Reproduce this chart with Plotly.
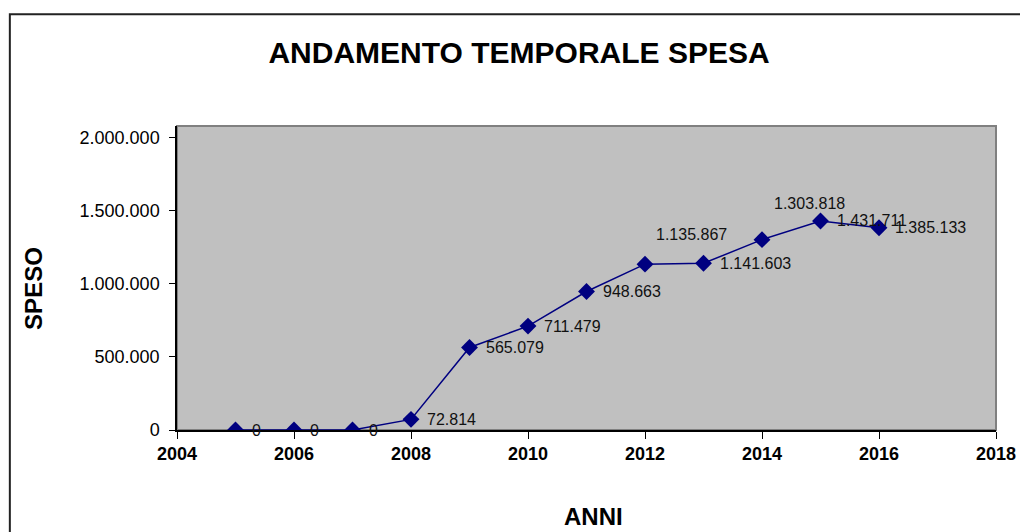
import plotly.graph_objects as go

anni = [2005, 2006, 2007, 2008, 2009, 2010, 2011, 2012, 2013, 2014, 2015, 2016]
speso = [0, 0, 0, 72814, 565079, 711479, 948663, 1135867, 1141603, 1303818, 1431711, 1385133]
y_ticks = [0, 500000, 1000000, 1500000, 2000000]
x_ticks = [2004, 2006, 2008, 2010, 2012, 2014, 2016, 2018]

# label offsets in pixels (default: right of the marker)
label_shift = {2012: (9, 30), 2014: (10, 36)}

FONT = "Liberation Sans, Arial, sans-serif"
NAVY = "#000080"


def fmt(v):
    return f"{v:,}".replace(",", ".")


fig = go.Figure()
fig.add_trace(go.Scatter(
    x=anni, y=speso, mode="lines+markers",
    line=dict(color=NAVY, width=1.5),
    marker=dict(symbol="diamond", size=13, color=NAVY),
    hoverinfo="x+y", showlegend=False,
))

for a, v in zip(anni, speso):
    dx, dy = label_shift.get(a, (14, 0))
    fig.add_annotation(
        x=a, y=v, text=fmt(v), showarrow=False,
        xanchor="left", yanchor="middle", xshift=dx, yshift=dy,
        font=dict(family=FONT, size=16, color="#111"),
    )

# axis titles
fig.add_annotation(text="<b>SPESO</b>", xref="paper", yref="paper", x=-0.176, y=0.467,
                   xanchor="center", yanchor="middle",
                   textangle=-90, showarrow=False, font=dict(size=24))
fig.add_annotation(text="<b>ANNI</b>", xref="paper", yref="paper", x=0.508, y=-0.286,
                   xanchor="center", yanchor="middle",
                   showarrow=False, font=dict(size=24))

# outer chart frame
fig.add_shape(type="rect", xref="paper", yref="paper",
              x0=-0.2041, x1=1.2, y0=-0.6, y1=1.368,
              line=dict(color="#222", width=2), layer="below")
# grey border of plot area
fig.add_shape(type="rect", xref="paper", yref="paper", x0=0, x1=1, y0=0, y1=1,
              line=dict(color="#808080", width=2), layer="below")

fig.update_layout(
    width=1020, height=524,
    margin=dict(l=169, r=25, t=118, b=102),
    paper_bgcolor="white", plot_bgcolor="#c0c0c0",
    separators=",.",
    font=dict(family=FONT, color="black"),
    title=dict(text="<b>ANDAMENTO TEMPORALE SPESA</b>", x=0.501, xanchor="center",
               y=0.916, yanchor="middle", font=dict(size=30, family=FONT)),
)
fig.update_xaxes(
    range=[2004, 2018], tickvals=x_ticks, ticktext=[f"<b>{t}</b>" for t in x_ticks],
    showgrid=False, zeroline=False, showline=True, linecolor="black", linewidth=1.5,
    ticks="outside", ticklen=7, tickcolor="black", tickfont=dict(size=18),
)
fig.update_yaxes(
    range=[0, 2082000], tickvals=y_ticks, tickformat=",d",
    showgrid=False, zeroline=False, showline=True, linecolor="black", linewidth=1.5,
    ticks="outside", ticklen=6, tickcolor="black", tickfont=dict(size=18),
    ticklabelstandoff=6,
)

fig.write_html("out.html")
